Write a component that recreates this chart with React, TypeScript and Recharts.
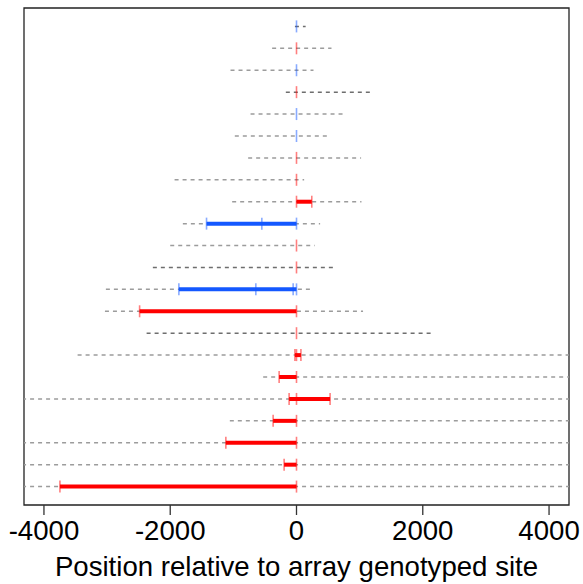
import {
  ComposedChart,
  XAxis,
  YAxis,
  Scatter,
  ReferenceLine,
  ReferenceArea,
  Label,
} from 'recharts';

// one entry per row, top to bottom
const kind = [
  'blue', 'red', 'blue', 'red', 'blue', 'blue', 'red', 'red', 'red', 'blue', 'red',
  'red', 'blue', 'red', 'red', 'red', 'red', 'red', 'red', 'red', 'red', 'red',
];
const rangeLo = [
  -25, -386, -1045, -169, -728, -977, -766, -1931, -1019, -1800, -2000,
  -2275, -3019, -3034, -2374, -3467, -528, -4600, -1056, -4600, -4600, -4600,
];
const rangeHi = [
  145, 554, 269, 1224, 786, 538, 1023, 121, 1029, 374, 290,
  580, 269, 1054, 2153, 4600, 4600, 4600, 4600, 4600, 4600, 4600,
];
const segLo = [0, 0, 0, 0, 0, 0, 0, 0, 0, -1425, 0, 0, -1863, -2485, 0, -25, -275, -117, -370, -1119, -196, -3747];
const segHi = [0, 0, 0, 0, 0, 0, 0, 0, 242, 0, 0, 0, 0, 0, 0, 70, 0, 532, 0, 0, 0, 0];
const marks = [
  [0], [0], [0], [0], [0], [0], [0], [0], [0, 242], [-1425, -549, 0], [0],
  [0], [-1863, -644, -53, 0], [-2485, 0], [0], [-25, 0, 70], [-275, 0], [-117, 0, 532],
  [-370, 0], [-1119, 0], [-196, 0], [-3747, 0],
];
const xTicks = [-4000, -2000, 0, 2000, 4000];

const X_DOMAIN: [number, number] = [-4316, 4316];
const Y_DOMAIN: [number, number] = [0.16, 22.84];
const DARK_ROWS = [1, 4, 12, 15];
const COLORS: Record<string, string> = { red: '#ff0000', blue: '#1458ff' };
const FONT = "'Liberation Sans', Arial, sans-serif";

const redMarks = marks.flatMap((xs, i) => (kind[i] === 'red' ? xs.map((x) => ({ x, y: i + 1 })) : []));
const blueMarks = marks.flatMap((xs, i) => (kind[i] === 'blue' ? xs.map((x) => ({ x, y: i + 1 })) : []));

const tickShape = (color: string) => (props: any) => (
  <line
    x1={props.cx}
    x2={props.cx}
    y1={props.cy - 6}
    y2={props.cy + 6}
    stroke={color}
    strokeOpacity={0.5}
    strokeWidth={1.6}
  />
);

export default function App() {
  return (
    <div style={{ position: 'absolute', left: 0, top: 0, background: '#fff' }}>
      <ComposedChart width={583} height={584} margin={{ top: 8, right: 14, bottom: 0, left: 24 }}>
        <XAxis
          type="number"
          dataKey="x"
          domain={X_DOMAIN}
          ticks={xTicks}
          allowDataOverflow
          axisLine={false}
          tickSize={10}
          tickMargin={5}
          height={79}
          tickLine={{ stroke: '#333', strokeWidth: 1.3 }}
          tick={{ fill: '#000', fontSize: 27.6, fontFamily: FONT }}
        >
          <Label
            value="Position relative to array genotyped site"
            position="insideBottom"
            offset={8}
            style={{ fill: '#000', fontSize: 27.6, fontFamily: FONT }}
          />
        </XAxis>
        <YAxis type="number" dataKey="y" domain={Y_DOMAIN} reversed hide width={0} allowDataOverflow />
        {rangeLo.map((lo, i) => (
          <ReferenceLine
            key={`r${i}`}
            segment={[{ x: lo, y: i + 1 }, { x: rangeHi[i], y: i + 1 }]}
            stroke={DARK_ROWS.includes(i + 1) ? '#6e6e6e' : '#9c9c9c'}
            strokeWidth={1.5}
            strokeDasharray="4 4"
            ifOverflow="hidden"
          />
        ))}
        {segLo.map((lo, i) =>
          lo === segHi[i] ? null : (
            <ReferenceLine
              key={`s${i}`}
              segment={[{ x: lo, y: i + 1 }, { x: segHi[i], y: i + 1 }]}
              stroke={COLORS[kind[i]]}
              strokeWidth={4}
              ifOverflow="hidden"
            />
          )
        )}
        <Scatter data={redMarks} shape={tickShape(COLORS.red)} isAnimationActive={false} />
        <Scatter data={blueMarks} shape={tickShape(COLORS.blue)} isAnimationActive={false} />
        <ReferenceArea
          x1={X_DOMAIN[0]}
          x2={X_DOMAIN[1]}
          y1={Y_DOMAIN[0]}
          y2={Y_DOMAIN[1]}
          fill="none"
          stroke="#222"
          strokeWidth={1.3}
          ifOverflow="visible"
        />
      </ComposedChart>
    </div>
  );
}
